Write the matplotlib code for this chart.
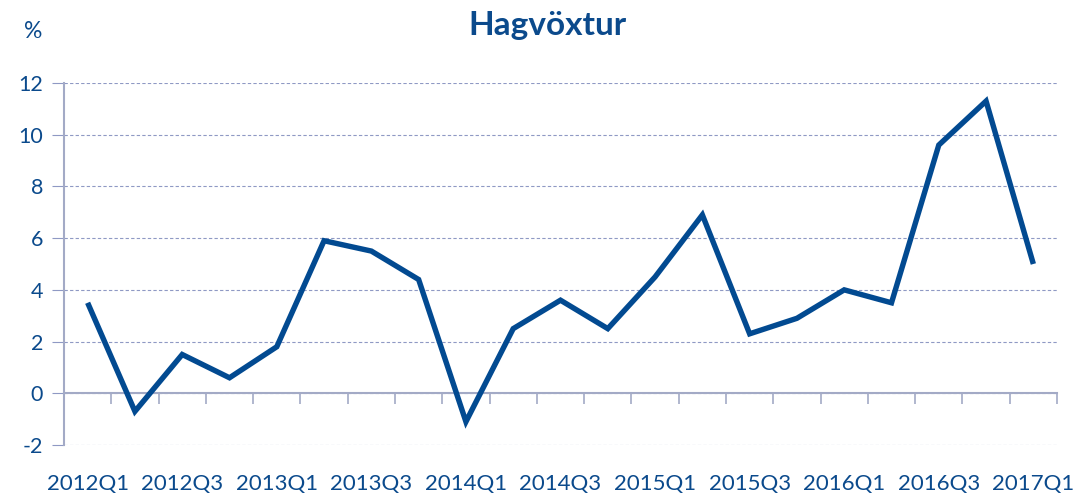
import numpy as np
import matplotlib
matplotlib.use("Agg")
import matplotlib.pyplot as plt

# quarterly GDP growth, %
quarters = ['2012Q1', '2012Q2', '2012Q3', '2012Q4',
            '2013Q1', '2013Q2', '2013Q3', '2013Q4',
            '2014Q1', '2014Q2', '2014Q3', '2014Q4',
            '2015Q1', '2015Q2', '2015Q3', '2015Q4',
            '2016Q1', '2016Q2', '2016Q3', '2016Q4',
            '2017Q1']
growth = [3.5, -0.7, 1.5, 0.6,
          1.8, 5.9, 5.5, 4.4,
          -1.1, 2.5, 3.6, 2.5,
          4.5, 6.9, 2.3, 2.9,
          4.0, 3.5, 9.6, 11.3,
          5.0]
yticks = [-2, 0, 2, 4, 6, 8, 10, 12]

text_col = '#0b4a8c'
line_col = '#024a91'
axis_col = '#a3aac6'
grid_col = '#8f99c4'

plt.rcParams['font.family'] = ['Lato', 'DejaVu Sans']
plt.rcParams['axes.unicode_minus'] = False

fig = plt.figure(figsize=(10.79, 4.95), dpi=100)
ax = fig.add_axes([64/1079, 50/495, 993/1079, 362/495])

x = np.arange(len(quarters))
ax.plot(x, growth, color=line_col, lw=3.9, solid_joinstyle='miter',
        solid_capstyle='butt', zorder=3)

ax.set_xlim(-0.5, len(quarters) - 0.5)
ax.set_ylim(-2, 12)

# y axis + dashed grid
ax.set_yticks(yticks)
ax.tick_params(axis='y', length=9, color=grid_col, width=0.8,
               labelsize=15.5, labelcolor=text_col, pad=6)
ax.yaxis.grid(True, ls=(0, (3, 2)), lw=0.8, color=grid_col)
for s in ['top', 'right']:
    ax.spines[s].set_visible(False)
ax.spines['left'].set_color(axis_col)
ax.spines['left'].set_linewidth(1.5)

# category axis sits at zero, ticks between categories
ax.spines['bottom'].set_position(('data', 0))
ax.spines['bottom'].set_color(axis_col)
ax.spines['bottom'].set_linewidth(1.5)
ax.set_xticks(np.arange(-0.5, len(quarters)))
ax.tick_params(axis='x', length=8, color=axis_col, width=1.2,
               labelbottom=False)

# labels below the plot, every other quarter
sec = ax.secondary_xaxis(0)
sec.set_xticks(x[::2])
sec.set_xticklabels(quarters[::2])
sec.tick_params(length=0, labelsize=16, labelcolor=text_col, pad=21)
sec.spines['bottom'].set_visible(False)

fig.text(547/1079, 1 - 25/495, 'Hagvöxtur', ha='center', va='center',
         fontsize=24, fontweight='bold', color=text_col)
fig.text(33/1079, 1 - 31/495, '%', ha='center', va='center',
         fontsize=16.5, color=text_col)

fig.savefig('out.png', dpi=100)
